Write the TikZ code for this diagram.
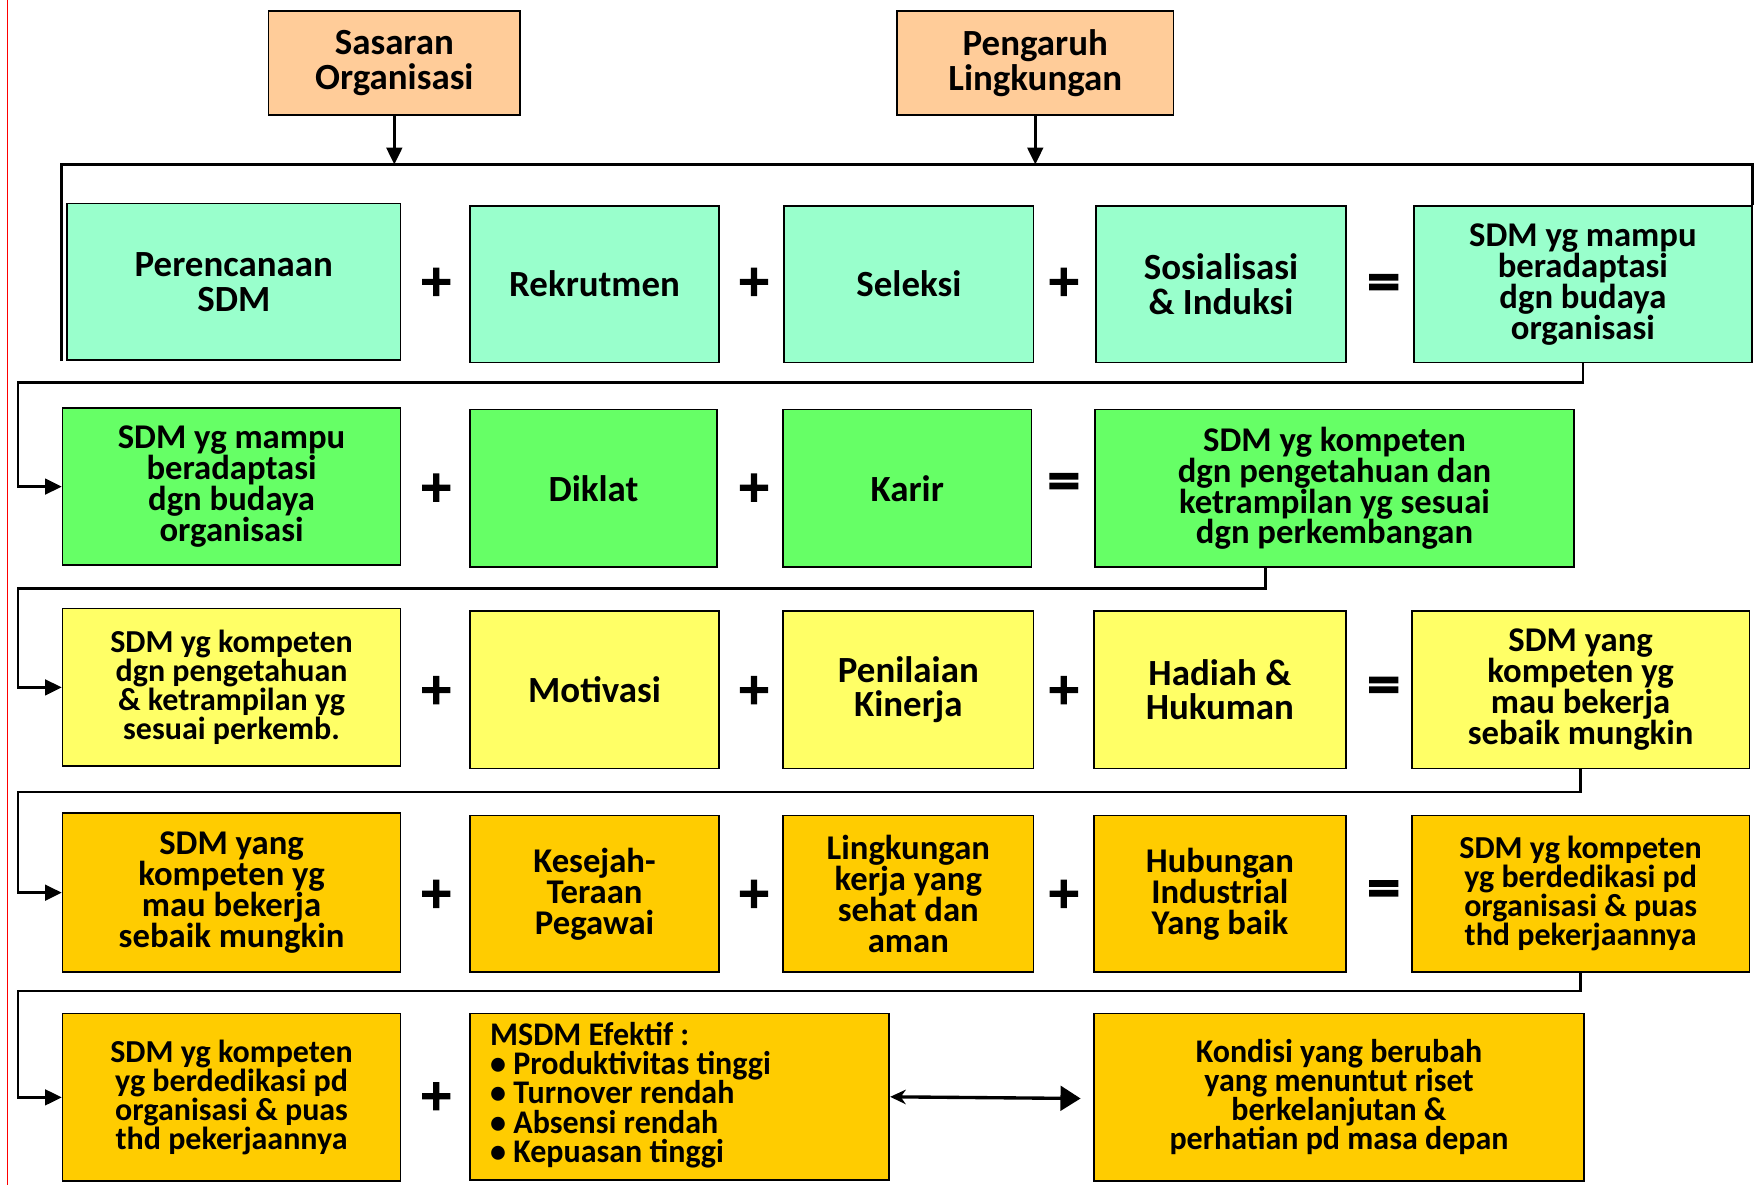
\documentclass[tikz,border=0pt]{standalone}
\usepackage{fontspec}
\setmainfont{Carlito}
\newfontfamily\condfont[FakeStretch=0.97]{Carlito}
\newfontfamily\opfont[FakeBold=2.5]{DejaVu Sans}
\newfontfamily\eqfont[FakeBold=4]{DejaVu Sans}
\usetikzlibrary{arrows.meta}
\definecolor{peach}{HTML}{FFCC99}
\definecolor{mint}{HTML}{99FFCC}
\definecolor{lgreen}{HTML}{66FF66}
\definecolor{lyellow}{HTML}{FFFF66}
\definecolor{gold}{HTML}{FFCC00}

% narrow bold face with tight leading for the last row
\DeclareRobustCommand\condsetup{%
  \condfont\bfseries\fontsize{29.5}{26}\selectfont}

% box from its corners: \mkbox[style]{name}{x1}{y1}{x2}{y2}{text}
\newcommand\mkbox[7][]{%
  \node[box,#1,minimum width={#5-#3},minimum height={#6-#4}] (#2)
    at ({(#3+#5)/2},{(#4+#6)/2}) {#7};}

\begin{document}
\begin{tikzpicture}[x=1pt,y=-1pt,
  box/.style={draw=black,line width=1.5pt,inner sep=0pt,align=center},
  tA/.style={font=\bfseries\fontsize{33}{31}\selectfont},
  tB/.style={font=\bfseries\fontsize{31}{27.7}\selectfont},
  tC/.style={font=\bfseries\fontsize{28.6}{26}\selectfont},
  tD/.style={font=\condsetup},
  wire/.style={draw=black,line width=2.4pt},
  arr/.style={wire,-{Triangle[length=15pt,width=14pt]}},
  op/.style={font=\opfont\bfseries\fontsize{39}{39}\selectfont,inner sep=0pt},
  eq/.style={font=\eqfont\bfseries\fontsize{39}{39}\selectfont,inner sep=0pt},
]
\fill[white] (0,0) rectangle (1568,1059);
\useasboundingbox (0,0) rectangle (1568,1059);

% margin rule
\draw[red,line width=1pt] (7,0) -- (7,1059);

% inputs
\mkbox[fill=peach,tA]{sas}{240}{10}{465}{103}{Sasaran\\Organisasi}
\mkbox[fill=peach,tA]{pen}{802}{10}{1049}{103}{Pengaruh\\Lingkungan}

% row 1
\mkbox[fill=mint,tA]{b11}{60}{182}{358}{322}{Perencanaan\\SDM}
\mkbox[fill=mint,tA]{b12}{420}{184}{643}{324}{Rekrutmen}
\mkbox[fill=mint,tA]{b13}{701}{184}{924}{324}{Seleksi}
\mkbox[fill=mint,tA]{b14}{980}{184}{1203}{324}{Sosialisasi\\\& Induksi}
\mkbox[fill=mint,tB]{b15}{1264}{184}{1566}{324}{SDM yg mampu\\beradaptasi\\dgn budaya\\organisasi}
\node[op] (p11) at (390,252) {+};
\node[op] (p12) at (674,252) {+};
\node[op] (p13) at (951,252) {+};
\node[eq] (e14) at (1237,255) {=};

% row 2
\mkbox[fill=lgreen,tB]{b21}{56}{365}{358}{505}{SDM yg mampu\\beradaptasi\\dgn budaya\\organisasi}
\mkbox[fill=lgreen,tA]{b22}{420}{366}{641}{507}{Diklat}
\mkbox[fill=lgreen,tA]{b23}{700}{366}{922}{507}{Karir}
\mkbox[fill=lgreen,tB]{b24}{979}{366}{1407}{507}{SDM yg kompeten\\dgn pengetahuan dan\\ketrampilan yg sesuai\\dgn perkembangan}
\node[op] (p21) at (390,436) {+};
\node[op] (p22) at (674,436) {+};
\node[eq] (e23) at (951,433) {=};

% row 3
\mkbox[fill=lyellow,tC]{b31}{56}{544}{358}{685}{SDM yg kompeten\\dgn pengetahuan\\\& ketrampilan yg\\sesuai perkemb.}
\mkbox[fill=lyellow,tA]{b32}{420}{546}{643}{687}{Motivasi}
\mkbox[fill=lyellow,tA]{b33}{700}{546}{924}{687}{Penilaian\\Kinerja}
\mkbox[fill=lyellow,tA]{b34}{978}{546}{1203}{687}{Hadiah \&\\Hukuman}
\mkbox[fill=lyellow,tB]{b35}{1262}{546}{1564}{687}{SDM yang\\kompeten yg\\mau bekerja\\sebaik mungkin}
\node[op] (p31) at (390,617) {+};
\node[op] (p32) at (674,617) {+};
\node[op] (p33) at (951,617) {+};
\node[eq] (e34) at (1237,615) {=};

% row 4
\mkbox[fill=gold,tB]{b41}{56}{727}{358}{869}{SDM yang\\kompeten yg\\mau bekerja\\sebaik mungkin}
\mkbox[fill=gold,tB]{b42}{420}{729}{643}{869}{Kesejah-\\Teraan\\Pegawai}
\mkbox[fill=gold,tB]{b43}{700}{729}{924}{869}{Lingkungan\\kerja yang\\sehat dan\\aman}
\mkbox[fill=gold,tB]{b44}{978}{729}{1203}{869}{Hubungan\\Industrial\\Yang baik}
\mkbox[fill=gold,tC]{b45}{1262}{729}{1564}{869}{SDM yg kompeten\\yg berdedikasi pd\\organisasi \& puas\\thd pekerjaannya}
\node[op] (p41) at (390,799) {+};
\node[op] (p42) at (674,799) {+};
\node[op] (p43) at (951,799) {+};
\node[eq] (e44) at (1237,797) {=};

% row 5
\mkbox[fill=gold,tC]{b51}{56}{906}{358}{1056}{SDM yg kompeten\\yg berdedikasi pd\\organisasi \& puas\\thd pekerjaannya}
\mkbox[fill=gold]{b52}{420}{906}{795}{1055}{}
\node[tD,align=left,anchor=west,inner sep=0pt] (b52t) at (438,979)
  {MSDM Efektif :\\• Produktivitas tinggi\\• Turnover rendah\\• Absensi rendah\\• Kepuasan tinggi};
\mkbox[fill=gold,tD]{b53}{978}{906}{1416}{1056}{Kondisi yang berubah\\yang menuntut riset\\berkelanjutan \&\\perhatian pd masa depan}
\node[op] (p51) at (390,980) {+};

% top frame and its two inputs
\coordinate (top) at (56,147);
\draw[wire] ([xshift=-4pt]b11.south west) -- ([xshift=-4pt]b11.south west |- top)
  -| (b15.north east);
\draw[arr] (sas.south) -- (sas.south |- top);
\draw[arr] (pen.south) -- (pen.south |- top);

% row to row feedback
\coordinate (r1) at (16,342);
\coordinate (r2) at (16,526);
\coordinate (r3) at (16,708);
\coordinate (r4) at (16,886);
\draw[arr] (b15.south) |- (r1) |- (b21.west);
\draw[arr] ([xshift=-62pt]b24.south) |- (r2) |- (b31.west);
\draw[arr] (b35.south) |- (r3) |- (b41.west);
\draw[arr] (b45.south) |- (r4) |- (b51.west);

% two-way link in the last row
\coordinate (lk) at (966,982);
\draw[line width=3pt,{Stealth[length=14pt,width=13pt]}-{Triangle[length=18pt,width=22pt]}]
  (b52.east) -- (lk);
\end{tikzpicture}
\end{document}
